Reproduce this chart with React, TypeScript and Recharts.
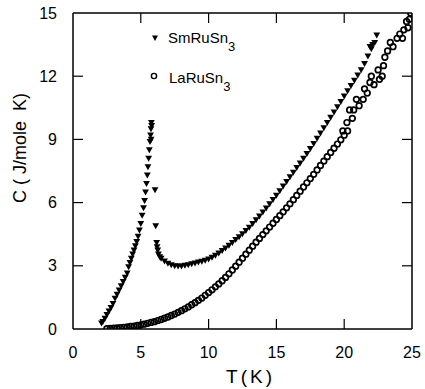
import React from 'react';
import { ScatterChart, Scatter, XAxis, YAxis, Legend, ReferenceLine } from 'recharts';

const xTicks = [0, 5, 10, 15, 20, 25];
const yTicks = [0, 3, 6, 9, 12, 15];

const smT = [2.1, 2.2, 2.35, 2.5, 2.65, 2.8, 2.95, 3.1, 3.25, 3.4, 3.55, 3.7, 3.85, 4.0, 4.1, 4.2, 4.3, 4.4, 4.5, 4.6, 4.7, 4.8, 4.9, 5.0, 5.1, 5.2, 5.28, 5.35, 5.42, 5.48, 5.53, 5.58, 5.63, 5.68, 5.72, 5.75, 5.78, 5.8, 5.76,
  6.05, 6.1, 6.17, 6.2, 6.25, 6.3, 6.4, 6.5, 6.75, 7.0, 7.25, 7.5, 7.75, 8.0, 8.25, 8.5, 8.75, 9.0, 9.25, 9.5, 9.75, 10.0, 10.25, 10.5, 10.75, 11.0, 11.25, 11.5, 11.75, 12.0, 12.25, 12.5, 12.75, 13.0, 13.25, 13.5, 13.75, 14.0, 14.25, 14.5, 14.75, 15.0, 15.25, 15.5, 15.75, 16.0, 16.25, 16.5, 16.75, 17.0, 17.25, 17.5, 17.75, 18.0, 18.25, 18.5, 18.75, 19.0, 19.25, 19.5, 19.75, 20.0, 20.25, 20.5, 20.75, 21.0, 21.25, 21.5, 21.75, 22.0, 22.25, 22.4, 21.9, 22.1];
const smC = [0.28, 0.35, 0.5, 0.68, 0.85, 1.02, 1.2, 1.45, 1.65, 1.85, 2.05, 2.25, 2.45, 2.65, 2.95, 3.15, 3.35, 3.55, 3.75, 3.95, 4.15, 4.4, 4.7, 5.0, 5.4, 5.75, 6.1, 6.5, 6.9, 7.3, 7.7, 8.1, 8.5, 8.9, 9.2, 9.5, 9.8, 9.65, 9.0,
  6.6, 4.9, 4.1, 3.9, 3.75, 3.55, 3.42, 3.35, 3.22, 3.12, 3.05, 3.0, 2.98, 2.99, 3.02, 3.05, 3.09, 3.13, 3.17, 3.21, 3.26, 3.32, 3.4, 3.5, 3.6, 3.72, 3.84, 3.97, 4.1, 4.24, 4.38, 4.52, 4.67, 4.83, 5.0, 5.18, 5.36, 5.55, 5.74, 5.94, 6.14, 6.35, 6.56, 6.78, 7.0, 7.22, 7.44, 7.66, 7.88, 8.1, 8.33, 8.56, 8.8, 9.05, 9.3, 9.55, 9.8, 10.05, 10.3, 10.55, 10.8, 11.05, 11.3, 11.55, 11.8, 12.05, 12.3, 12.6, 12.95, 13.3, 13.6, 13.95, 13.4, 13.5];

const laT = [2.5, 2.75, 3.0, 3.25, 3.5, 3.75, 4.0, 4.25, 4.5, 4.75, 5.0, 5.25, 5.5, 5.75, 6.0, 6.25, 6.5, 6.75, 7.0, 7.25, 7.5, 7.75, 8.0, 8.25, 8.5, 8.75, 9.0, 9.25, 9.5, 9.75, 10.0, 10.25, 10.5, 10.75, 11.0, 11.25, 11.5, 11.75, 12.0, 12.25, 12.5, 12.75, 13.0, 13.25, 13.5, 13.75, 14.0, 14.25, 14.5, 14.75, 15.0, 15.25, 15.5, 15.75, 16.0, 16.25, 16.5, 16.75, 17.0, 17.25, 17.5, 17.75, 18.0, 18.25, 18.5, 18.75, 19.0, 19.25, 19.5, 19.75, 20.0, 20.25,
  19.9, 20.2, 20.4, 20.6, 20.7, 20.9, 21.1, 21.4, 21.5, 21.7, 21.9, 22.0, 22.2, 22.5, 22.6, 22.8, 22.9, 23.0, 23.2, 23.4, 23.6, 23.9, 24.1, 24.3, 24.4, 24.6, 24.7, 24.8, 24.9];
const laC = [0.02, 0.03, 0.04, 0.05, 0.06, 0.08, 0.1, 0.12, 0.14, 0.17, 0.2, 0.23, 0.27, 0.31, 0.35, 0.4, 0.45, 0.51, 0.57, 0.64, 0.71, 0.79, 0.87, 0.96, 1.05, 1.15, 1.25, 1.36, 1.47, 1.6, 1.73, 1.86, 2.0, 2.14, 2.29, 2.45, 2.62, 2.8, 2.98, 3.17, 3.36, 3.55, 3.74, 3.93, 4.12, 4.3, 4.48, 4.66, 4.84, 5.02, 5.2, 5.38, 5.56, 5.75, 5.94, 6.14, 6.34, 6.54, 6.74, 6.94, 7.14, 7.34, 7.55, 7.76, 7.97, 8.18, 8.38, 8.58, 8.78, 8.98, 9.2, 9.4,
  9.4, 9.8, 10.4, 10.0, 10.4, 10.9, 10.6, 10.9, 11.4, 11.2, 11.7, 12.0, 11.6, 12.3, 11.85, 12.0, 12.5, 12.9, 13.2, 13.6, 13.4, 13.8, 14.0, 13.8, 14.2, 14.6, 14.3, 14.7, 15.0];

const smData = smT.map((t, i) => ({ t, c: smC[i] }));
const laData = laT.map((t, i) => ({ t, c: laC[i] }));

const X_MIN = 0, X_MAX = 25, Y_MIN = 0, Y_MAX = 15;
const X_TICK_LEN = 0.48; // in data units of C
const Y_TICK_LEN = 0.74; // in data units of T

const FONT = '"Liberation Sans", Arial, sans-serif';

const DownTri = (p: any) => {
  const { cx, cy } = p;
  if (cx == null || cy == null) return null;
  return <path d={`M${cx - 3.4},${cy - 2.6} L${cx + 3.4},${cy - 2.6} L${cx},${cy + 3.4} Z`} fill="#000" />;
};

const OpenCircle = (p: any) => {
  const { cx, cy } = p;
  if (cx == null || cy == null) return null;
  return <circle cx={cx} cy={cy} r={2.8} fill="none" stroke="#000" strokeWidth={1.7} />;
};

const LegendBox = () => (
  <svg width={110} height={72} style={{ display: 'block', fontFamily: FONT }}>
    <path d="M7,10.6 L13,10.6 L10,16 Z" fill="#000" />
    <text x={23} y={18} fontSize={15} fill="#000">
      SmRuSn<tspan dy={8} fontSize={13}>3</tspan>
    </text>
    <circle cx={9} cy={51} r={2.6} fill="none" stroke="#000" strokeWidth={1.4} />
    <text x={24} y={58} fontSize={15} fill="#000">
      LaRuSn<tspan dy={8} fontSize={13}>3</tspan>
    </text>
  </svg>
);

const XLabel = (props: any) => {
  const vb = props.viewBox || {};
  return (
    <text x={vb.x + vb.width / 2 + 8} y={vb.y + 54} textAnchor="middle" fontSize={19} letterSpacing={3} fontFamily={FONT} fill="#000">
      T(K)
    </text>
  );
};

const YLabel = (props: any) => {
  const vb = props.viewBox || {};
  const cx = 20;
  const cy = vb.y + vb.height / 2 - 23;
  return (
    <text x={cx} y={cy} transform={`rotate(-90 ${cx} ${cy})`} textAnchor="middle" dominantBaseline="central" fontSize={18} fontFamily={FONT} fill="#000" style={{ whiteSpace: 'pre' }}>
      {'C ( J/mole  K)'}
    </text>
  );
};

const tickStyle = { fontSize: 16, fill: '#000', fontFamily: FONT };
const lineStyle = { stroke: '#000', strokeWidth: 1.2 };

export default function App() {
  return (
    <div style={{ position: 'absolute', left: 0, top: 0, background: '#fff' }}>
      <ScatterChart width={425} height={389} margin={{ top: 13, right: 13, bottom: 0, left: 0 }}>
        <XAxis dataKey="t" type="number" domain={[X_MIN, X_MAX]} ticks={xTicks} orientation="bottom" height={60}
          tickLine={false} tickMargin={12} tick={tickStyle} axisLine={{ stroke: '#000', strokeWidth: 1.5 }}
          allowDataOverflow label={<XLabel />} />
        <YAxis dataKey="c" type="number" domain={[Y_MIN, Y_MAX]} ticks={yTicks} orientation="left" width={73}
          tickLine={false} tickMargin={10} tick={tickStyle} axisLine={{ stroke: '#000', strokeWidth: 1.5 }}
          allowDataOverflow label={<YLabel />} />
        <ReferenceLine y={Y_MAX} stroke="#000" strokeWidth={1.5} ifOverflow="visible" />
        <ReferenceLine x={X_MAX} stroke="#000" strokeWidth={1.5} ifOverflow="visible" />
        {xTicks.filter((t) => t > X_MIN && t < X_MAX).map((t) => (
          <ReferenceLine key={'xb' + t} segment={[{ x: t, y: Y_MIN }, { x: t, y: Y_MIN + X_TICK_LEN }]} {...lineStyle} ifOverflow="visible" />
        ))}
        {xTicks.filter((t) => t > X_MIN && t < X_MAX).map((t) => (
          <ReferenceLine key={'xt' + t} segment={[{ x: t, y: Y_MAX }, { x: t, y: Y_MAX - X_TICK_LEN }]} {...lineStyle} ifOverflow="visible" />
        ))}
        {yTicks.filter((v) => v > Y_MIN && v < Y_MAX).map((v) => (
          <ReferenceLine key={'yl' + v} segment={[{ x: X_MIN, y: v }, { x: X_MIN + Y_TICK_LEN, y: v }]} {...lineStyle} ifOverflow="visible" />
        ))}
        {yTicks.filter((v) => v > Y_MIN && v < Y_MAX).map((v) => (
          <ReferenceLine key={'yr' + v} segment={[{ x: X_MAX, y: v }, { x: X_MAX - Y_TICK_LEN, y: v }]} {...lineStyle} ifOverflow="visible" />
        ))}
        <Legend layout="vertical" align="center" verticalAlign="middle" content={<LegendBox />}
          wrapperStyle={{ left: 145, top: 25, width: 110, height: 72 }} />
        <Scatter name="SmRuSn3" data={smData} shape={<DownTri />} isAnimationActive={false} />
        <Scatter name="LaRuSn3" data={laData} shape={<OpenCircle />} isAnimationActive={false} />
      </ScatterChart>
    </div>
  );
}
